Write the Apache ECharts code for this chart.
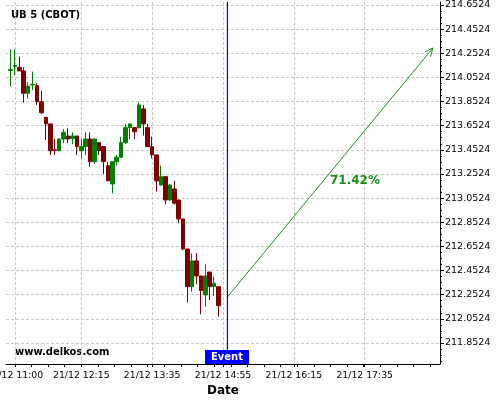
<!DOCTYPE html>
<html><head><meta charset="utf-8">
<script src="https://cdn.jsdelivr.net/npm/echarts@6/dist/echarts.min.js"></script>
<style>html,body{margin:0;padding:0;background:#fff}#c{width:500px;height:400px}</style>
</head><body><div id="c"></div>
<script>
const times = ['10:55','11:00','11:05','11:10','11:15','11:20','11:25','11:30','11:35','11:40','11:45','11:50','11:55','12:00','12:05','12:10','12:15','12:20','12:25','12:30','12:35','12:40','12:45','12:50','12:55','13:00','13:05','13:10','13:15','13:20','13:25','13:30','13:35','13:40','13:45','13:50','13:55','14:00','14:05','14:10','14:15','14:20','14:25','14:30','14:35','14:40','14:45','14:50'];
const opens = [214.110,214.143,214.136,214.106,213.921,213.990,213.984,213.851,213.722,213.667,213.453,213.445,213.542,213.567,213.545,213.567,213.445,213.479,213.542,213.354,213.512,213.479,213.321,213.170,213.354,213.391,213.512,213.636,213.636,213.636,213.791,213.636,213.479,213.410,213.161,213.230,213.037,213.128,213.037,212.880,212.631,212.319,212.532,212.407,212.250,212.440,212.319,212.319];
const closes = [214.118,214.151,214.106,213.921,213.981,213.995,213.851,213.760,213.667,213.445,213.449,213.542,213.598,213.542,213.567,213.479,213.479,213.542,213.354,213.542,213.445,213.354,213.197,213.354,213.391,213.512,213.636,213.667,213.603,213.824,213.667,213.479,213.410,213.194,213.230,213.037,213.161,213.010,212.880,212.631,212.319,212.532,212.407,212.286,212.407,212.319,212.347,212.161];
const lows = [213.976,214.072,214.106,213.843,213.879,213.948,213.824,213.749,213.534,213.410,213.410,213.440,213.507,213.507,213.499,213.410,213.382,213.410,213.313,213.335,213.410,213.252,213.190,213.092,213.321,213.385,213.500,213.540,213.540,213.630,213.570,213.475,213.382,213.106,213.155,213.001,213.030,213.000,212.844,212.620,212.189,212.277,212.339,212.090,212.153,212.208,212.241,212.070];
const highs = [214.285,214.285,214.224,214.136,214.012,214.100,214.004,213.942,213.722,213.667,213.542,213.545,213.625,213.631,213.598,213.567,213.542,213.598,213.598,213.545,213.512,213.479,213.354,213.354,213.410,213.561,213.667,213.670,213.640,213.846,213.824,213.667,213.561,213.410,213.321,213.230,213.170,213.194,213.037,212.880,212.631,212.595,212.595,212.407,212.504,212.440,212.401,212.319];
const xTickLabels = ['11:00','12:15','13:35','14:55','16:15','17:35'];
const yTickLabels = ['211.8524','212.0524','212.2524','212.4524','212.6524','212.8524','213.0524','213.2524','213.4524','213.6524','213.8524','214.0524','214.2524','214.4524','214.6524'];
const xRange = ['10:50','19:00'];
const yRange = [211.678, 214.677];
const eventTime = '15:00';
const forecastFrom = ['15:00', 212.233];
const forecastTo = ['18:52', 214.296];
const forecastText = '71.42%';
const forecastTextAt = ['17:24', 213.194];
const dayLabel = '21/12';

const toMin = s => { const [h, m] = s.split(':').map(Number); return h * 60 + m; };
const pad = n => String(n).padStart(2, '0');
const fmtX = v => dayLabel + ' ' + pad(Math.floor(v / 60)) + ':' + pad(Math.round(v % 60));

const xMin = toMin(xRange[0]), xMax = toMin(xRange[1]);
const xMajor = xTickLabels.map(toMin);
const xMinor = []; for (let v = xMajor[0]; v <= xMax; v += (xMajor[1] - xMajor[0]) / 4) xMinor.push(v);
const yMajor = yTickLabels.map(Number);
const yStep = (yMajor[1] - yMajor[0]) / 4;
const yMinor = []; for (let v = yMajor[0] - 3 * yStep; v <= yRange[1] + 1e-9; v += yStep) if (v >= yRange[0]) yMinor.push(+v.toFixed(4));

const candles = times.map((t, i) => [toMin(t), opens[i], closes[i], lows[i], highs[i]]);
const FONT = 'DejaVu Sans';
const green = '#008000', red = '#800000', fc = '#1a8f1a';

const chart = echarts.init(document.getElementById('c'), null, { renderer: 'canvas' });
chart.setOption({
  animation: false,
  backgroundColor: '#fff',
  grid: { left: 6, right: 60, top: 2, bottom: 36, containLabel: false, outerBoundsMode: 'none' },
  xAxis: [{
    type: 'value', min: xMin, max: xMax, position: 'bottom',
    name: 'Date', nameLocation: 'middle', nameGap: 19,
    nameTextStyle: { fontFamily: FONT, fontWeight: 'bold', fontSize: 12, color: '#000' },
    axisLine: { show: true, onZero: false, lineStyle: { color: '#000', width: 1 } },
    axisTick: { show: true, customValues: xMajor, length: 3, lineStyle: { color: '#000' } },
    axisLabel: { customValues: xMajor, formatter: fmtX, fontFamily: FONT, fontSize: 9.3, color: '#000', margin: 7, hideOverlap: false },
    splitLine: { show: true, lineStyle: { color: '#c8c8c8', type: [3, 2], width: 1 } }
  }, {
    type: 'value', min: xMin, max: xMax, position: 'bottom', gridIndex: 0,
    axisLine: { show: false, onZero: false },
    axisTick: { show: true, customValues: xMinor, length: 3, lineStyle: { color: '#000' } },
    axisLabel: { show: false }, splitLine: { show: false }
  }],
  yAxis: [{
    type: 'value', min: yRange[0], max: yRange[1], position: 'right', scale: true,
    axisLine: { show: true, onZero: false, lineStyle: { color: '#000', width: 1 } },
    axisTick: { show: true, customValues: yMajor, length: 4, lineStyle: { color: '#000' } },
    axisLabel: { customValues: yMajor, formatter: v => v.toFixed(4), fontFamily: FONT, fontSize: 9.5, color: '#000', margin: 5 },
    splitLine: { show: true, lineStyle: { color: '#c8c8c8', type: [3, 2], width: 1 } }
  }, {
    type: 'value', min: yRange[0], max: yRange[1], position: 'right', scale: true,
    axisLine: { show: false, onZero: false },
    axisTick: { show: true, customValues: yMinor, length: 2, lineStyle: { color: '#000' } },
    axisLabel: { show: false }, splitLine: { show: false }
  }],
  series: [{
    type: 'candlestick', xAxisIndex: 0, yAxisIndex: 0,
    data: candles, encode: { x: 0, y: [1, 2, 3, 4] },
    barWidth: 4,
    itemStyle: { color: green, color0: red, borderColor: green, borderColor0: red, borderWidth: 1 }
  }, {
    type: 'line', xAxisIndex: 0, yAxisIndex: 0, silent: true, z: 4,
    data: [[toMin(eventTime), yRange[0]], [toMin(eventTime), yRange[1]]],
    symbol: 'none', color: '#0000ff',
    lineStyle: { color: '#0000ff', width: 1.2, type: 'solid' }
  }, {
    type: 'custom', xAxisIndex: 0, yAxisIndex: 0, silent: true,
    data: [[toMin(forecastFrom[0]), forecastFrom[1], toMin(forecastTo[0]), forecastTo[1]]],
    renderItem(params, api) {
      const p0 = api.coord([api.value(0), api.value(1)]);
      const p1 = api.coord([api.value(2), api.value(3)]);
      const ang = Math.atan2(p1[1] - p0[1], p1[0] - p0[0]);
      const L = 9, a = 0.42;
      const h1 = [p1[0] - L * Math.cos(ang - a), p1[1] - L * Math.sin(ang - a)];
      const h2 = [p1[0] - L * Math.cos(ang + a), p1[1] - L * Math.sin(ang + a)];
      return { type: 'group', children: [
        { type: 'line', shape: { x1: p0[0], y1: p0[1], x2: p1[0], y2: p1[1] }, style: { stroke: fc, lineWidth: 1 } },
        { type: 'polyline', shape: { points: [h1, p1, h2] }, style: { stroke: fc, fill: null, lineWidth: 1 } }
      ] };
    }
  }, {
    type: 'custom', xAxisIndex: 0, yAxisIndex: 0, silent: true,
    data: [[toMin(forecastTextAt[0]), forecastTextAt[1]]],
    renderItem(params, api) {
      const p = api.coord([api.value(0), api.value(1)]);
      return { type: 'text', x: p[0], y: p[1], style: { text: forecastText, fill: fc, font: 'bold 12px "DejaVu Sans"', align: 'center', verticalAlign: 'middle' } };
    }
  }, {
    type: 'custom', xAxisIndex: 0, yAxisIndex: 0, silent: true, z: 5,
    data: [[toMin(eventTime), yRange[0]]],
    renderItem(params, api) {
      const p = api.coord([api.value(0), api.value(1)]);
      return { type: 'group', children: [
        { type: 'rect', shape: { x: Math.round(p[0]) - 22, y: p[1] - 14, width: 44, height: 14 }, style: { fill: '#0000ff' } },
        { type: 'text', x: Math.round(p[0]), y: p[1] - 7, style: { text: 'Event', fill: '#fff', font: 'bold 10px "DejaVu Sans"', align: 'center', verticalAlign: 'middle' } }
      ] };
    }
  }],
  graphic: [
    { type: 'text', left: 11, top: 10, style: { text: 'UB 5 (CBOT)', fill: '#000', font: 'bold 10px "DejaVu Sans"' } },
    { type: 'text', left: 15, top: 347, style: { text: 'www.delkos.com', fill: '#000', font: 'bold 10px "DejaVu Sans"' } }
  ]
});
</script></body></html>
